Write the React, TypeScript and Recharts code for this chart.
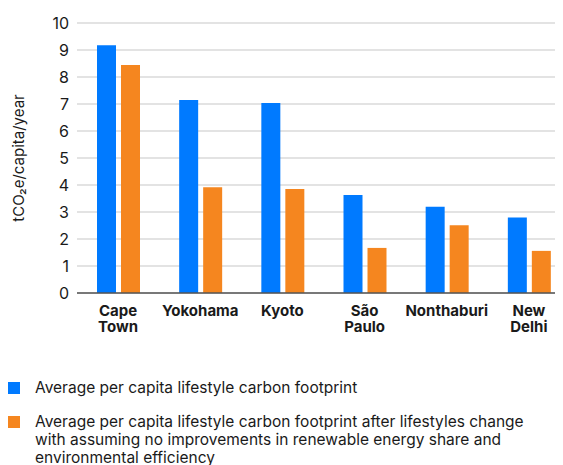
import * as React from 'react';
import { BarChart, Bar, XAxis, YAxis, CartesianGrid } from 'recharts';

const cities = ['Cape\nTown', 'Yokohama', 'Kyoto', 'São\nPaulo', 'Nonthaburi', 'New\nDelhi'];
const current = [9.18, 7.15, 7.04, 3.63, 3.19, 2.8];
const afterChange = [8.44, 3.92, 3.85, 1.67, 2.51, 1.56];
const yTicks = [0, 1, 2, 3, 4, 5, 6, 7, 8, 9, 10];

const seriesNames = [
  'Average per capita lifestyle carbon footprint',
  'Average per capita lifestyle carbon footprint after lifestyles change with assuming no improvements in renewable energy share and environmental efficiency',
];

const BLUE = '#007AFF';
const ORANGE = '#F5861F';
const FONT = 'Inter, "Noto Sans", sans-serif';

const data = cities.map((city, i) => ({ city, current: current[i], after: afterChange[i] }));

// two-line city names, each line its own text
const CityTick = (props: any) => {
  const { x, y, payload } = props;
  const lines = String(payload.value).split('\n');
  return (
    <g>
      {lines.map((l, i) => (
        <text key={i} x={x} y={y + 15 + i * 16} textAnchor="middle" fontFamily={FONT} fontSize={15}
          fontWeight={700} fill="#1a1a1a">{l}</text>
      ))}
    </g>
  );
};

const YLabel = (props: any) => {
  const vb = props.viewBox || {};
  const cx = (vb.x || 0) + 10;
  const cy = (vb.y || 0) + (vb.height || 0) / 2;
  return (
    <text x={cx} y={cy} transform={`rotate(-90, ${cx}, ${cy})`} textAnchor="middle" dominantBaseline="central"
      fontFamily={FONT} fontSize={15} fill="#1a1a1a">
      tCO₂e/capita/year
    </text>
  );
};

export default function App() {
  return (
    <div style={{ width: 555, overflow: 'hidden', fontFamily: FONT }}>
      <BarChart width={562} height={345} data={data} margin={{ top: 15, right: 0, left: 0, bottom: 0 }}
        barSize={19} barGap={5}>
        <CartesianGrid vertical={false} stroke="#c8c8c8" strokeWidth={1.2} />
        <XAxis dataKey="city" height={60} tickLine={false} axisLine={{ stroke: '#555', strokeWidth: 1.5 }}
          tick={<CityTick />} interval={0} />
        <YAxis width={69} domain={[0, 10]} ticks={yTicks} tickLine={false} axisLine={false}
          tick={{ fontFamily: FONT, fontSize: 16, fill: '#1a1a1a' }} label={<YLabel />} />
        <Bar dataKey="current" fill={BLUE} isAnimationActive={false} />
        <Bar dataKey="after" fill={ORANGE} isAnimationActive={false} />
      </BarChart>
      <div style={{ paddingTop: 26, fontSize: 15.5, lineHeight: '18px', color: '#1a1a1a' }}>
        {seriesNames.map((name, i) => (
          <div key={i} style={{ display: 'flex', alignItems: 'flex-start', marginBottom: 16 }}>
            <span style={{ width: 12, height: 12, marginTop: 3, marginRight: 15, flexShrink: 0,
              background: i === 0 ? BLUE : ORANGE }} />
            <span style={{ width: 505 }}>{name}</span>
          </div>
        ))}
      </div>
    </div>
  );
}
